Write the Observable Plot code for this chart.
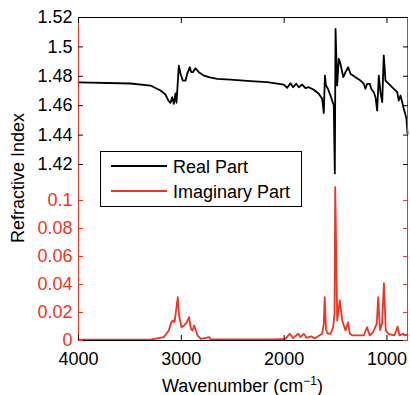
<!DOCTYPE html>
<html><head><meta charset="utf-8">
<script src="https://cdn.jsdelivr.net/npm/d3@7"></script>
<script src="https://cdn.jsdelivr.net/npm/@observablehq/plot@0.6"></script>
<style>body{margin:0;background:#fff}</style>
</head><body><div id="chart"></div>
<script>
// ---- data ----
const realWavenumber = [4000,3494,3300,3202,3154,3125,3105,3089,3073,3057,3047,3024,3008,2986,2959,2943,2917,2904,2888,2862,2830,2781,2733,2651,2522,2327,2165,2003,1970,1938,1912,1883,1857,1824,1792,1760,1711,1663,1630,1614,1603,1593,1575,1549,1517,1507,1500,1484,1468,1452,1425,1403,1377,1355,1306,1257,1225,1209,1192,1167,1153,1128,1111,1095,1079,1063,1046,1031,1014,982,933,900,885,868,836,810,800];
const realIndex = [1.4758,1.4751,1.4737,1.4703,1.4676,1.4635,1.4620,1.4658,1.4613,1.4683,1.4620,1.4873,1.4817,1.4771,1.4771,1.4817,1.4862,1.4828,1.4828,1.4855,1.4828,1.4805,1.4794,1.4783,1.4778,1.4767,1.4760,1.4744,1.4722,1.4753,1.4726,1.4749,1.4726,1.4744,1.4719,1.4726,1.4708,1.4681,1.4647,1.4550,1.4805,1.4737,1.4717,1.4669,1.4601,1.4139,1.5123,1.4737,1.4919,1.4885,1.4794,1.4828,1.4862,1.4817,1.4794,1.4771,1.4749,1.4715,1.4749,1.4749,1.4715,1.4692,1.4658,1.4567,1.4805,1.4692,1.4624,1.4942,1.4771,1.4749,1.4715,1.4692,1.4635,1.4669,1.4579,1.4511,1.4409];
const imagWavenumber = [4000,3300,3170,3122,3098,3079,3066,3057,3034,3022,2998,2972,2946,2924,2907,2891,2875,2859,2843,2810,2729,2712,2100,1990,1945,1912,1863,1841,1809,1782,1737,1705,1630,1614,1605,1593,1578,1549,1523,1510,1503,1484,1459,1435,1403,1379,1361,1335,1225,1194,1167,1134,1099,1085,1068,1048,1029,1011,982,927,897,878,842,829,815,800];
const imagIndex = [0.0006,0.0006,0.0024,0.0071,0.0131,0.0143,0.0131,0.0179,0.0309,0.0179,0.0095,0.0107,0.0131,0.0167,0.0083,0.0071,0.0107,0.0071,0.0036,0.0012,0.0024,0.0007,0.0008,0.0012,0.0048,0.0017,0.0048,0.0024,0.0048,0.0019,0.0030,0.0015,0.0048,0.012,0.031,0.008,0.005,0.0048,0.0095,0.019,0.1095,0.0143,0.0286,0.0143,0.0071,0.013,0.0048,0.0036,0.0036,0.0095,0.0036,0.006,0.012,0.031,0.0075,0.012,0.041,0.007,0.0045,0.0036,0.010,0.0036,0.0048,0.0036,0.004,0.0036];
const realTicks = [1.42,1.44,1.46,1.48,1.5,1.52];
const realTickLabels = ["1.42","1.44","1.46","1.48","1.5","1.52"];
const imagTicks = [0,0.02,0.04,0.06,0.08,0.1];
const imagTickLabels = ["0","0.02","0.04","0.06","0.08","0.1"];
const xTicks = [4000,3000,2000,1000];
const xTickLabels = ["4000","3000","2000","1000"];
const xDomain = [4000, 800];
const seriesNames = ["Real Part","Imaginary Part"];
const yLabel = "Refractive Index";

// ---- styling / layout ----
const RED = "#ee3424";
const BLACK = "#000";
// shared (broken) y axis: imaginary part in its own units at the bottom,
// real part stacked above with its own offset and scale
const realBase = 0.12571, realScale = 1.05;
const realToY = r => realBase + (r - 1.42) * realScale;
const yTop = realToY(1.52);

const realData = realWavenumber.map((w, i) => ({w, v: realToY(realIndex[i])}));
const imagData = imagWavenumber.map((w, i) => ({w, v: imagIndex[i]}));
const rT = realTicks.map(realToY);
const labelOf = new Map([
  ...rT.map((t, i) => [t, realTickLabels[i]]),
  ...imagTicks.map((t, i) => [t, imagTickLabels[i]])
]);
const xLabelOf = new Map(xTicks.map((t, i) => [t, xTickLabels[i]]));
const blank = () => "";

const plot = Plot.plot({
  width: 410, height: 395,
  marginLeft: 78, marginRight: 3, marginTop: 17, marginBottom: 55,
  style: {fontFamily: "'Liberation Sans', Arial, Helvetica, sans-serif", fontSize: "18px", background: "#fff", overflow: "visible"},
  x: {domain: xDomain, label: null},
  y: {domain: [0, yTop], label: null},
  marks: [
    Plot.line(imagData, {x: "w", y: "v", stroke: RED, strokeWidth: 1.8}),
    Plot.line(realData, {x: "w", y: "v", stroke: BLACK, strokeWidth: 1.8}),
    Plot.ruleY([0, yTop], {stroke: BLACK, strokeWidth: 1}),
    Plot.ruleX(xDomain, {stroke: RED, strokeWidth: 1}),
    // left labels
    Plot.axisY({ticks: rT, tickFormat: d => labelOf.get(d), tickSize: 0, tickPadding: 6, fill: BLACK, label: null}),
    Plot.axisY({ticks: imagTicks, tickFormat: d => labelOf.get(d), tickSize: 0, tickPadding: 6, fill: RED, label: null}),
    // inward ticks left/right
    Plot.axisY({ticks: rT, tickFormat: blank, tickSize: 5, dx: 5, stroke: BLACK, label: null}),
    Plot.axisY({ticks: imagTicks, tickFormat: blank, tickSize: 5, dx: 5, stroke: RED, label: null}),
    Plot.axisY({anchor: "right", ticks: rT, tickFormat: blank, tickSize: 5, dx: -5, stroke: BLACK, label: null}),
    Plot.axisY({anchor: "right", ticks: imagTicks, tickFormat: blank, tickSize: 5, dx: -5, stroke: RED, label: null}),
    // x axis
    Plot.axisX({anchor: "bottom", ticks: xTicks, tickFormat: d => xLabelOf.get(d), tickSize: 0, tickPadding: 12, fill: BLACK, label: null}),
    Plot.axisX({anchor: "bottom", ticks: xTicks, tickFormat: blank, tickSize: 5, dy: -5, stroke: BLACK, label: null}),
    Plot.axisX({anchor: "top", ticks: xTicks, tickFormat: blank, tickSize: 5, dy: 5, stroke: BLACK, label: null})
  ]
});
document.getElementById("chart").appendChild(plot);

// ---- axis titles and legend ----
const svg = d3.select(plot);
const font = "'Liberation Sans', Arial, Helvetica, sans-serif";
svg.append("text")
  .attr("transform", "translate(24,178) rotate(-90)")
  .attr("text-anchor", "middle").attr("font-family", font).attr("font-size", 18).attr("fill", BLACK)
  .text(yLabel);
const xl = svg.append("text")
  .attr("x", 242.5).attr("y", 392)
  .attr("text-anchor", "middle").attr("font-family", font).attr("font-size", 18).attr("fill", BLACK);
xl.append("tspan").text("Wavenumber (cm");
xl.append("tspan").attr("dy", -7).attr("font-size", 12).text("\u22121");
xl.append("tspan").attr("dy", 7).text(")");

const lg = svg.append("g");
lg.append("rect").attr("x", 100.5).attr("y", 151.5).attr("width", 201).attr("height", 55)
  .attr("fill", "#fff").attr("stroke", BLACK).attr("stroke-width", 1);
const colors = [BLACK, RED];
seriesNames.forEach((name, i) => {
  const y = 166 + i * 25;
  lg.append("line").attr("x1", 111).attr("x2", 167).attr("y1", y).attr("y2", y)
    .attr("stroke", colors[i]).attr("stroke-width", 1.8);
  lg.append("text").attr("x", 173).attr("y", y + 6.5).attr("text-anchor", "start")
    .attr("font-family", font).attr("font-size", 18).attr("fill", BLACK).text(name);
});
</script>
</body></html>
